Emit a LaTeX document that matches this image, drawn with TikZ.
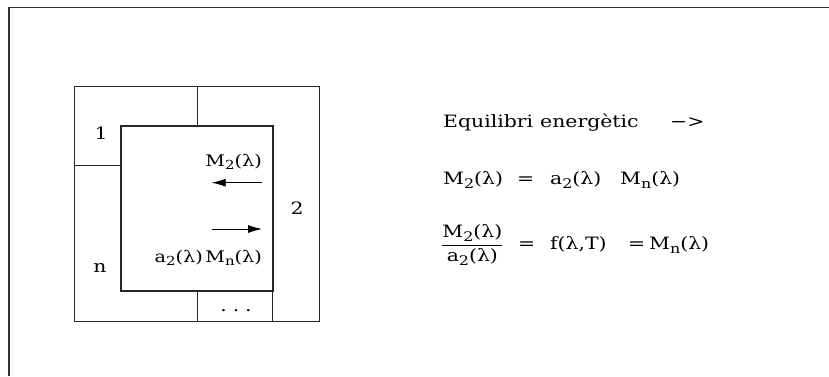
\documentclass[tikz,border=0pt]{standalone}
\usepackage{fontspec}
\newfontfamily\txf[FakeStretch=1.2]{DejaVu Serif}
\usetikzlibrary{arrows.meta}
\newcommand\lam{λ}
\newcommand\lsb[1]{\raisebox{-0.45ex}{\scalebox{0.78}{#1}}}
\newcommand\pc[2]{\makebox[#1][l]{#2}}
\tikzset{
  thin line/.style={line width=0.9pt, draw=black!85},
  thick line/.style={line width=2pt, draw=black!85},
  lab/.style={inner sep=0pt, font=\txf\fontsize{17}{19}\selectfont},
  boxlab/.style={inner sep=0pt, anchor=east, font=\txf\fontsize{16}{18}\selectfont},
  eq/.style={inner sep=0pt, anchor=west, font=\txf\fontsize{17}{19}\selectfont},
  flow/.style={line width=0.9pt, -{Latex[length=14pt,width=8pt]}}
}
\begin{document}
\begin{tikzpicture}[x=1pt,y=-1pt]
\useasboundingbox (0,0) rectangle (829,376);
% page frame
\coordinate (fa) at (9,376);
\coordinate (fb) at (9,7.5);
\coordinate (fc) at (829,7.5);
\draw[line width=1.2pt, draw=black!80] (fa) -- (fb) -- (fc);
% outer box and partitions
\draw[thin line] (74.3,86) rectangle (319.3,321);
\coordinate (t1) at (197.3,86);
\coordinate (t2) at (197.3,126);
\draw[thin line] (t1) -- (t2);
\coordinate (h1) at (74.3,165.7);
\coordinate (h2) at (121,165.7);
\draw[thin line] (h1) -- (h2);
\coordinate (b1) at (197.3,291);
\coordinate (b2) at (197.3,321);
\draw[thin line] (b1) -- (b2);
\coordinate (c1) at (272.7,291);
\coordinate (c2) at (272.7,321);
\draw[thin line] (c1) -- (c2);
% inner body
\draw[thick line] (121,126) rectangle (272.7,291);
% labels
\node[lab] (one) at (101,133) {1};
\node[lab] (en) at (100,268) {n};
\node[lab] (two) at (297,208) {2};
\node[lab] (dots) at (236,311) {.\hspace{6pt}.\hspace{6pt}.};
\node[boxlab] (m2) at (262,162) {M\lsb{2}(\lam)};
\node[boxlab] (amn) at (262,258) {a\lsb{2}(\lam)\hspace{2.5pt}M\lsb{n}(\lam)};
\coordinate (la) at (262,182.7);
\coordinate (lb) at (211.7,182.7);
\draw[flow] (la) -- (lb);
\coordinate (ra) at (211.7,229);
\coordinate (rb) at (262,229);
\draw[flow] (ra) -- (rb);
% equations
\node[eq] (e1) at (443,123) {\pc{97pt}{Equilibri}\pc{130pt}{energètic}−>};
\node[eq] (e2) at (443,180) {\pc{74pt}{M\lsb{2}(\lam)}\pc{33pt}{=}\pc{70pt}{a\lsb{2}(\lam)}M\lsb{n}(\lam)};
\node[eq] (e3) at (441,245) {\pc{77pt}{$\vcenter{\hbox{$\displaystyle\frac{\hbox{\txf M\lsb{2}(\lam)}}{\hbox{\txf a\lsb{2}(\lam)}}$}}$}\pc{32pt}{=}\pc{78pt}{f(\lam,T)}\pc{21pt}{=}M\lsb{n}(\lam)};
\end{tikzpicture}
\end{document}
